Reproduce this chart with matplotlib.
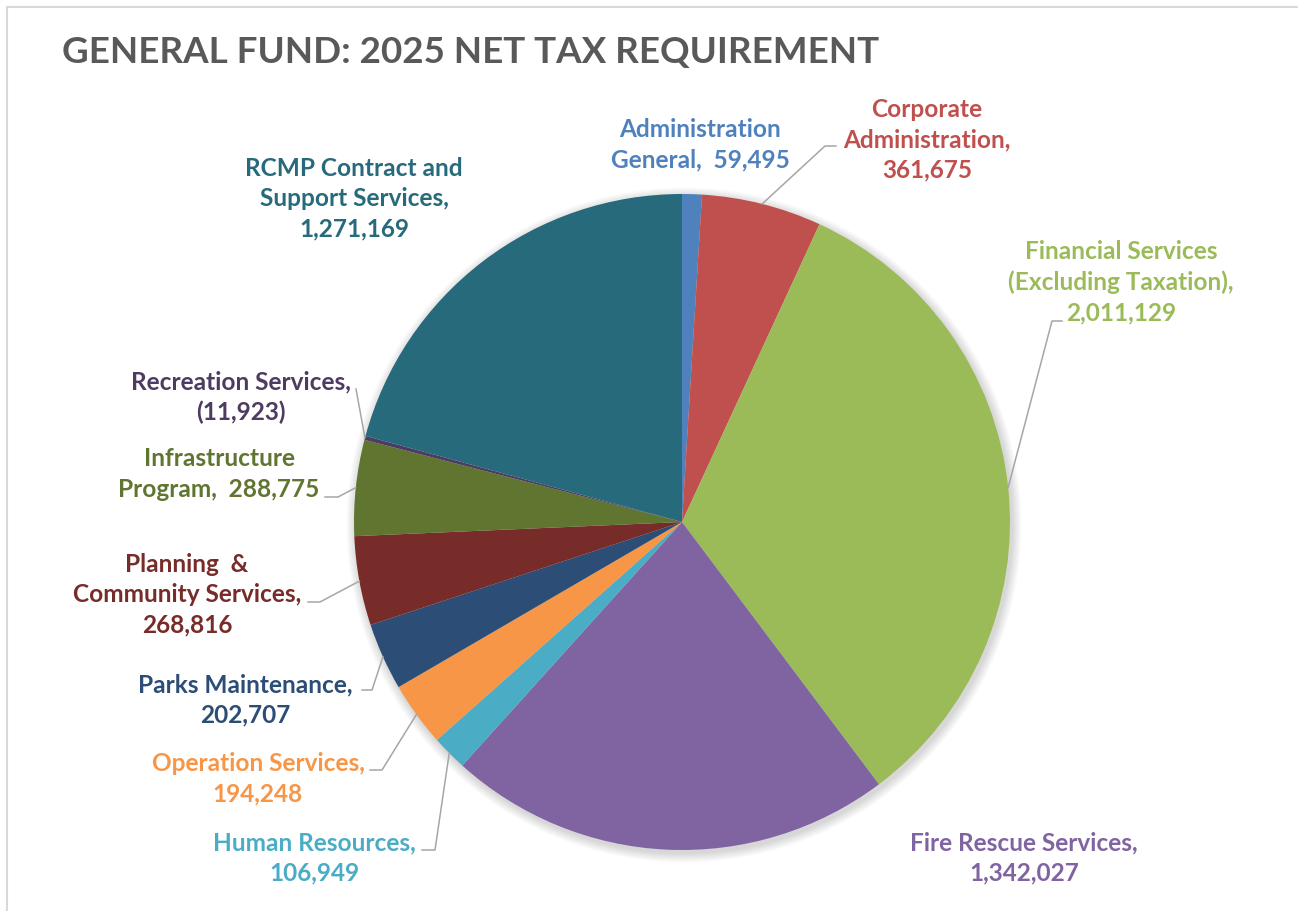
import numpy as np
import matplotlib.pyplot as plt
from matplotlib.patches import Circle

plt.rcParams['font.family'] = ['Lato', 'DejaVu Sans']

W, H = 1298, 911

departments = [
    "Administration\nGeneral,  59,495",
    "Corporate\nAdministration,\n361,675",
    "Financial Services\n(Excluding Taxation),\n2,011,129",
    "Fire Rescue Services,\n1,342,027",
    "Human Resources,\n106,949",
    "Operation Services,\n194,248",
    "Parks Maintenance,\n202,707",
    "Planning  &\nCommunity Services,\n268,816",
    "Infrastructure\nProgram,  288,775",
    "Recreation Services,\n(11,923)",
    "RCMP Contract and\nSupport Services,\n1,271,169",
]
net_tax = [59495, 361675, 2011129, 1342027, 106949, 194248, 202707,
           268816, 288775, -11923, 1271169]
colors = ["#4F81BD", "#C0504D", "#9BBB59", "#8064A2", "#4BACC6", "#F79646",
          "#2C4D75", "#772C2A", "#5F7530", "#4D3B62", "#276A7C"]

# label anchor (pixel coords, y down) and elbow points of the leader lines
label_pos = [(700, 145), (927, 140), (1121, 282), (1024, 858), (314, 858),
             (258, 779), (245, 700), (187, 595), (219, 474), (241, 397),
             (354, 199)]
leaders = {
    1: [(825, 146), (836, 146)],
    2: [(1052, 321), (1062, 321)],
    4: [(435, 850), (422, 850)],
    5: [(382, 770), (370, 770)],
    6: [(372, 690), (362, 690)],
    7: [(320, 602), (308, 602)],
    8: [(338, 497), (325, 497)],
    9: [(356, 389)],
}


def Y(y):
    return H - y


fig = plt.figure(figsize=(W / 100, H / 100), dpi=100)
ax = fig.add_axes([0, 0, 1, 1])

cx, cy, r = 682, 522, 328
sizes = np.abs(net_tax)

# soft drop shadow behind the pie
for k in range(8):
    ax.add_patch(Circle((cx + 2, Y(cy) - 3), r + 1 + k * 1.2,
                        color="black", alpha=0.018, lw=0, zorder=0))

wedges, _ = ax.pie(sizes, colors=colors, startangle=90, counterclock=False,
                   center=(cx, Y(cy)), radius=r,
                   wedgeprops=dict(linewidth=0, zorder=2))

for i, w in enumerate(wedges):
    mid = np.deg2rad((w.theta1 + w.theta2) / 2)
    ex, ey = cx + r * np.cos(mid), Y(cy) + r * np.sin(mid)
    if i in leaders:
        pts = [(ex, ey)] + [(px, Y(py)) for px, py in leaders[i]]
        xs, ys = zip(*pts)
        ax.plot(xs, ys, color="#A6A6A6", lw=1.1, zorder=3)
    lx, ly = label_pos[i]
    ax.text(lx, Y(ly), departments[i], ha="center", va="center",
            multialignment="center", fontsize=17.6, fontweight="bold",
            color=colors[i], linespacing=1.37, zorder=4)

ax.text(62, Y(53), "GENERAL FUND: 2025 NET TAX REQUIREMENT", ha="left",
        va="center", fontsize=26.5, fontweight="bold", color="#595959")

# chart area border
ax.plot([7, W + 5], [Y(6.5), Y(6.5)], color="#D9D9D9", lw=1.5)
ax.plot([7, 7], [Y(6.5), -5], color="#D9D9D9", lw=1.5)

ax.set_xlim(0, W)
ax.set_ylim(0, H)
ax.set_aspect("auto")
ax.axis("off")

fig.savefig("out.png", dpi=100, facecolor="white")
